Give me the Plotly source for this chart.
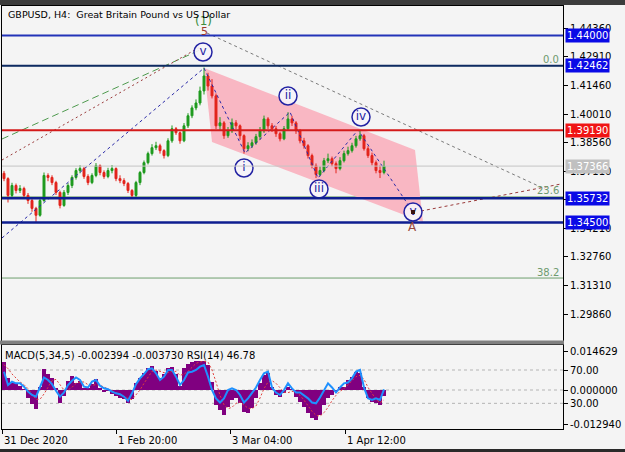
import plotly.graph_objects as go

W, H = 625, 452
FONT = "DejaVu Sans"

# ---------------- price data (H4, sampled) ----------------
OPEN = [1.3700, 1.3673, 1.3588, 1.3638, 1.3613, 1.3623, 1.3588, 1.3562, 1.3522, 1.3487,
        1.3562, 1.3689, 1.3679, 1.3653, 1.3603, 1.3537, 1.3603, 1.3638, 1.3679, 1.3714,
        1.3724, 1.3684, 1.3653, 1.3689, 1.3739, 1.3704, 1.3684, 1.3714, 1.3724, 1.3673,
        1.3663, 1.3648, 1.3613, 1.3588, 1.3653, 1.3704, 1.3754, 1.3800, 1.3830, 1.3840,
        1.3815, 1.3790, 1.3865, 1.3926, 1.3906, 1.3865, 1.3941, 1.3992, 1.4032, 1.4057,
        1.4118, 1.4194, 1.4143, 1.4093, 1.3941, 1.3956, 1.3891, 1.3916, 1.3956, 1.3941,
        1.3891, 1.3825, 1.3840, 1.3855, 1.3886, 1.3916, 1.3976, 1.3941, 1.3926, 1.3901,
        1.3875, 1.3926, 1.3976, 1.3956, 1.3916, 1.3865, 1.3840, 1.3790, 1.3739, 1.3694,
        1.3714, 1.3764, 1.3774, 1.3749, 1.3724, 1.3764, 1.3800, 1.3815, 1.3840, 1.3875,
        1.3891, 1.3825, 1.3790, 1.3754, 1.3714, 1.3704]
HIGH = [1.3712, 1.3680, 1.3652, 1.3648, 1.3640, 1.3632, 1.3600, 1.3575, 1.3530, 1.3575,
        1.3704, 1.3700, 1.3690, 1.3662, 1.3612, 1.3615, 1.3650, 1.3690, 1.3726, 1.3741,
        1.3732, 1.3695, 1.3700, 1.3752, 1.3745, 1.3715, 1.3728, 1.3742, 1.3730, 1.3690,
        1.3675, 1.3656, 1.3620, 1.3662, 1.3712, 1.3765, 1.3810, 1.3848, 1.3860, 1.3850,
        1.3822, 1.3878, 1.3943, 1.3935, 1.3912, 1.3955, 1.4005, 1.4045, 1.4075, 1.4140,
        1.4237, 1.4210, 1.4178, 1.4105, 1.3985, 1.3965, 1.3935, 1.3978, 1.3970, 1.3948,
        1.3898, 1.3858, 1.3872, 1.3900, 1.3935, 1.3993, 1.3985, 1.3955, 1.3940, 1.3910,
        1.3940, 1.4010, 1.3992, 1.3965, 1.3925, 1.3880, 1.3848, 1.3800, 1.3750, 1.3735,
        1.3778, 1.3800, 1.3785, 1.3760, 1.3782, 1.3815, 1.3835, 1.3855, 1.3890, 1.3917,
        1.3900, 1.3838, 1.3805, 1.3765, 1.3740, 1.3764]
LOW = [1.3660, 1.3552, 1.3575, 1.3598, 1.3600, 1.3570, 1.3545, 1.3505, 1.3452, 1.3480,
       1.3555, 1.3660, 1.3640, 1.3590, 1.3522, 1.3530, 1.3590, 1.3625, 1.3668, 1.3700,
       1.3672, 1.3640, 1.3645, 1.3680, 1.3690, 1.3672, 1.3675, 1.3700, 1.3660, 1.3650,
       1.3635, 1.3600, 1.3574, 1.3580, 1.3640, 1.3695, 1.3745, 1.3790, 1.3818, 1.3800,
       1.3775, 1.3782, 1.3855, 1.3895, 1.3850, 1.3858, 1.3930, 1.3980, 1.4020, 1.4045,
       1.4100, 1.4120, 1.4080, 1.3925, 1.3920, 1.3875, 1.3880, 1.3905, 1.3925, 1.3870,
       1.3800, 1.3812, 1.3828, 1.3845, 1.3870, 1.3905, 1.3925, 1.3910, 1.3885, 1.3862,
       1.3868, 1.3915, 1.3940, 1.3900, 1.3852, 1.3825, 1.3775, 1.3725, 1.3676, 1.3685,
       1.3705, 1.3752, 1.3735, 1.3700, 1.3715, 1.3755, 1.3790, 1.3805, 1.3830, 1.3865,
       1.3815, 1.3778, 1.3740, 1.3700, 1.3676, 1.3695]
CLOSE = [1.3673, 1.3588, 1.3638, 1.3613, 1.3623, 1.3588, 1.3562, 1.3522, 1.3487, 1.3562,
         1.3689, 1.3679, 1.3653, 1.3603, 1.3537, 1.3603, 1.3638, 1.3679, 1.3714, 1.3724,
         1.3684, 1.3653, 1.3689, 1.3739, 1.3704, 1.3684, 1.3714, 1.3724, 1.3673, 1.3663,
         1.3648, 1.3613, 1.3588, 1.3653, 1.3704, 1.3754, 1.3800, 1.3830, 1.3840, 1.3815,
         1.3790, 1.3865, 1.3926, 1.3906, 1.3865, 1.3941, 1.3992, 1.4032, 1.4057, 1.4118,
         1.4194, 1.4143, 1.4093, 1.3941, 1.3956, 1.3891, 1.3916, 1.3956, 1.3941, 1.3891,
         1.3825, 1.3840, 1.3855, 1.3886, 1.3916, 1.3976, 1.3941, 1.3926, 1.3901, 1.3875,
         1.3926, 1.3976, 1.3956, 1.3916, 1.3865, 1.3840, 1.3790, 1.3739, 1.3694, 1.3714,
         1.3764, 1.3774, 1.3749, 1.3724, 1.3764, 1.3800, 1.3815, 1.3840, 1.3875, 1.3891,
         1.3825, 1.3790, 1.3754, 1.3714, 1.3704, 1.3737]
BARS = list(range(len(CLOSE)))

# ---------------- indicator data ----------------
MACD = [0.0105, 0.0045, 0.0026, 0.0026, 0.0015, 0.0002, -0.0030, -0.0053, -0.0070, 0.0010,
        0.0079, 0.0060, 0.0045, 0.0008, -0.0049, -0.0022, 0.0034, 0.0053, 0.0026, 0.0034,
        0.0008, 0.0004, 0.0023, 0.0040, 0.0008, -0.0005, -0.0003, -0.0015, -0.0022, -0.0030,
        -0.0034, -0.0049, -0.0035, 0.0026, 0.0045, 0.0064, 0.0083, 0.0090, 0.0071, 0.0045,
        0.0060, 0.0083, 0.0086, 0.0060, 0.0015, 0.0083, 0.0098, 0.0105, 0.0109, 0.0109,
        0.0109, 0.0095, 0.0030, -0.0056, -0.0075, -0.0094, -0.0064, -0.0038, -0.0030, -0.0049,
        -0.0083, -0.0086, -0.0068, -0.0030, 0.0026, 0.0056, 0.0064, 0.0011, -0.0019, -0.0026,
        -0.0011, 0.0011, 0.0002, -0.0026, -0.0045, -0.0064, -0.0086, -0.0105, -0.0113, -0.0094,
        -0.0056, -0.0030, -0.0019, -0.0003, 0.0011, 0.0011, 0.0038, 0.0049, 0.0068, 0.0064,
        0.0011, -0.0030, -0.0045, -0.0049, -0.0056, -0.0024]
SIGNAL = [0.0095, 0.0080, 0.0060, 0.0045, 0.0030, 0.0020, 0.0005, -0.0015, -0.0035, -0.0035,
          -0.0015, 0.0010, 0.0035, 0.0040, 0.0020, 0.0000, 0.0000, 0.0010, 0.0025, 0.0030,
          0.0030, 0.0020, 0.0018, 0.0020, 0.0018, 0.0012, 0.0005, -0.0003, -0.0010, -0.0018,
          -0.0025, -0.0032, -0.0036, -0.0020, 0.0000, 0.0025, 0.0050, 0.0070, 0.0075, 0.0070,
          0.0065, 0.0065, 0.0070, 0.0070, 0.0055, 0.0060, 0.0070, 0.0085, 0.0100, 0.0105,
          0.0108, 0.0105, 0.0075, 0.0030, -0.0020, -0.0055, -0.0070, -0.0065, -0.0050, -0.0045,
          -0.0055, -0.0068, -0.0070, -0.0060, -0.0030, 0.0005, 0.0030, 0.0035, 0.0025, 0.0008,
          -0.0008, -0.0010, -0.0005, -0.0008, -0.0020, -0.0038, -0.0060, -0.0080, -0.0095, -0.0098,
          -0.0085, -0.0065, -0.0040, -0.0020, -0.0005, 0.0005, 0.0020, 0.0035, 0.0050, 0.0055,
          0.0040, 0.0010, -0.0015, -0.0035, -0.0048, -0.0037]
RSI = [68, 52, 56, 54, 54, 50, 44, 40, 38, 50,
       61, 58, 53, 45, 38, 43, 52, 57, 61, 58,
       50, 49, 56, 58, 51, 48, 47, 44, 42, 41,
       38, 33, 42, 53, 60, 65, 71, 72, 66, 58,
       62, 70, 70, 62, 52, 58, 67, 68, 70, 74,
       76, 62, 46, 36, 31, 36, 46, 48, 46, 40,
       31, 36, 42, 49, 58, 66, 68, 49, 43, 40,
       46, 54, 48, 43, 43, 40, 36, 31, 30, 37,
       46, 54, 49, 43, 49, 54, 55, 60, 68, 70,
       49, 36, 34, 36, 34, 46.78]

# ---------------- axes / ticks ----------------
X_RANGE = [-0.5, 139.75]
PRICE_RANGE = [1.28490, 1.45491]
PRICE_TICKS = [1.29860, 1.31310, 1.32760, 1.34210, 1.35660, 1.37110,
               1.38560, 1.40010, 1.41460, 1.42910, 1.44360]
PRICE_TICK_HIDDEN = [1.35660]          # fully covered by a price box in the original
MACD_RANGE = [-0.01463, 0.01688]
MACD_TICKS = [0.014629, 0.0, -0.012940]
MACD_TICKTEXT = ["0.014629", "0.000000", "-0.012940"]
RSI_RANGE = [-0.8, 100.0]
RSI_TICKS = [70, 30]
TIME_TICK_BARS = [-0.5, 28, 56.5, 85.25]
TIME_TICK_TEXT = ["31 Dec 2020", "1 Feb 20:00", "3 Mar 04:00", "1 Apr 12:00"]

# ---------------- drawing objects ----------------
LEVELS = [1.44000, 1.42462, 1.39190, 1.37366, 1.35732, 1.34500]
LEVEL_LINE_COLORS = ["#2233B8", "#0E2A62", "#D41A1A", "#C4C4C4", "#0E1E90", "#0E1E90"]
LEVEL_LINE_WIDTHS = [2, 2, 2, 1, 2.5, 2.5]
LEVEL_BOX_COLORS = ["#0A0AE6", "#0A0AE6", "#F01414", "#C0C0C0", "#0A0AE6", "#0A0AE6"]

FIB_NAMES = ["0.0", "23.6", "38.2"]
FIB_PRICES = [1.42462, 1.35804, 1.31685]

CHANNEL_X = [50, 102.75, 104.75, 52]
CHANNEL_Y = [1.4234, 1.3818, 1.3453, 1.3859]

WAVE_X = [-0.5, 50, 60.25, 71.5, 78.5, 88.5, 102.25]
WAVE_Y = [1.3372, 1.4234, 1.3803, 1.4011, 1.3676, 1.3920, 1.3504]

WAVE_LABELS = ["v", "i", "ii", "iii", "iv", "v"]
WAVE_LABEL_X = [49.75, 60, 71, 78.75, 89.25, 102.25]
WAVE_LABEL_Y = [1.43157, 1.37270, 1.40924, 1.36204, 1.39858, 1.35037]

GREEN_LINE_X, GREEN_LINE_Y = [-0.5, 49], [1.38741, 1.43258]
RED_LINE_X, RED_LINE_Y = [-0.5, 49], [1.37676, 1.43410]
GRAY_LINE_X, GRAY_LINE_Y = [50.75, 135.25], [1.44121, 1.36204]
BROWN_LINE_X, BROWN_LINE_Y = [104.25, 139.25], [1.35087, 1.36458]

# ---------------- geometry helpers (pixel -> paper) ----------------
def py(px):
    return 1 - px / H

def pxx(px):
    return px / W

fig = go.Figure()

# channel (below traces)
path = "M " + " L ".join(f"{x},{y}" for x, y in zip(CHANNEL_X, CHANNEL_Y)) + " Z"
fig.add_shape(type="path", path=path, xref="x", yref="y",
              fillcolor="#F9B7C3", line=dict(width=0), layer="below")

# fib lines (below)
for p in FIB_PRICES:
    fig.add_shape(type="line", xref="x domain", yref="y", x0=0, x1=1, y0=p, y1=p,
                  line=dict(color="#6E9E6E", width=1), layer="below")

# candles
fig.add_trace(go.Candlestick(
    x=BARS, open=OPEN, high=HIGH, low=LOW, close=CLOSE,
    increasing=dict(line=dict(color="#1E9A1E", width=1), fillcolor="#1E9A1E"),
    decreasing=dict(line=dict(color="#E3241C", width=1), fillcolor="#E3241C"),
    whiskerwidth=0, showlegend=False, xaxis="x", yaxis="y"))

# horizontal level lines (above candles)
for lv, c, w in zip(LEVELS, LEVEL_LINE_COLORS, LEVEL_LINE_WIDTHS):
    fig.add_shape(type="line", xref="x domain", yref="y", x0=0, x1=1, y0=lv, y1=lv,
                  line=dict(color=c, width=w), layer="above")

# trend lines
fig.add_trace(go.Scatter(x=GREEN_LINE_X, y=GREEN_LINE_Y, mode="lines",
                         line=dict(color="#4E9A4E", width=1, dash="7px,4px"),
                         showlegend=False, xaxis="x", yaxis="y"))
fig.add_trace(go.Scatter(x=RED_LINE_X, y=RED_LINE_Y, mode="lines",
                         line=dict(color="#9A3A3A", width=1, dash="2px,3px"),
                         showlegend=False, xaxis="x", yaxis="y"))
fig.add_trace(go.Scatter(x=GRAY_LINE_X, y=GRAY_LINE_Y, mode="lines",
                         line=dict(color="#7A7A7A", width=1, dash="3px,3px"),
                         showlegend=False, xaxis="x", yaxis="y"))
fig.add_trace(go.Scatter(x=BROWN_LINE_X, y=BROWN_LINE_Y, mode="lines",
                         line=dict(color="#9A3A3A", width=1, dash="3px,3px"),
                         showlegend=False, xaxis="x", yaxis="y"))
fig.add_trace(go.Scatter(x=WAVE_X, y=WAVE_Y, mode="lines",
                         line=dict(color="#2A2AA8", width=1, dash="3px,3px"),
                         showlegend=False, xaxis="x", yaxis="y"))

# circled wave labels
fig.add_trace(go.Scatter(
    x=WAVE_LABEL_X, y=WAVE_LABEL_Y, mode="markers+text", text=WAVE_LABELS,
    textposition="middle center",
    textfont=dict(family=FONT, size=12, color="#2323A3"),
    marker=dict(symbol="circle", size=18, color="rgba(246,244,250,0.9)",
                line=dict(color="#2323A3", width=1.5)),
    showlegend=False, xaxis="x", yaxis="y"))
fig.add_trace(go.Scatter(x=[WAVE_LABEL_X[-1]], y=[WAVE_LABEL_Y[-1]], mode="markers",
                         marker=dict(symbol="square", size=4, color="#3A1010"),
                         showlegend=False, xaxis="x", yaxis="y"))

# MACD panel
fig.add_trace(go.Bar(x=BARS, y=MACD, marker=dict(color="#800080", line=dict(width=0)),
                     width=1.0, showlegend=False, xaxis="x2", yaxis="y2"))
fig.add_trace(go.Scatter(x=BARS, y=SIGNAL, mode="lines",
                         line=dict(color="#E0403C", width=1, dash="2px,2px"),
                         showlegend=False, xaxis="x2", yaxis="y2"))
fig.add_trace(go.Scatter(x=BARS, y=RSI, mode="lines",
                         line=dict(color="#1E90FF", width=2),
                         showlegend=False, xaxis="x2", yaxis="y3"))

for lv in RSI_TICKS:
    fig.add_shape(type="line", xref="x2 domain", yref="y3", x0=0, x1=1, y0=lv, y1=lv,
                  line=dict(color="#B4B4B4", width=1, dash="3px,3px"), layer="below")
fig.add_shape(type="line", xref="x2 domain", yref="y2", x0=0, x1=1, y0=0, y1=0,
              line=dict(color="#B4B4B4", width=1, dash="3px,3px"), layer="below")

# separator / frame strips
fig.add_shape(type="rect", xref="paper", yref="paper", x0=0, x1=pxx(564),
              y0=py(344.5), y1=py(340.5), fillcolor="#808080", line=dict(width=0), layer="above")
fig.add_shape(type="rect", xref="paper", yref="paper", x0=0, x1=1,
              y0=py(5), y1=1, fillcolor="#3C3C3C", line=dict(width=0), layer="above")
fig.add_shape(type="rect", xref="paper", yref="paper", x0=0, x1=1,
              y0=0, y1=py(449), fillcolor="#2A2A2A", line=dict(width=0), layer="above")

ann = []
# right axis price boxes
for lv, c in zip(LEVELS, LEVEL_BOX_COLORS):
    ann.append(dict(x=pxx(565), xref="paper", y=lv, yref="y", xanchor="left", yanchor="middle",
                    text=f"{lv:.5f}", showarrow=False, bgcolor=c, borderpad=1,
                    font=dict(family=FONT, size=10, color="white")))
# fib labels
for name, p in zip(FIB_NAMES, FIB_PRICES):
    ann.append(dict(x=pxx(561), xref="paper", y=p, yref="y", xanchor="right", yanchor="middle",
                    yshift=6, text=name, showarrow=False,
                    font=dict(family=FONT, size=10, color="#6E9A6E")))
# wave degree marks
ann.append(dict(x=WAVE_X[1] - 0.25, y=1.44730, xref="x", yref="y", text="(1)", showarrow=False,
                font=dict(family=FONT, size=12, color="#3E8E3E")))
ann.append(dict(x=WAVE_X[1], y=1.44222, xref="x", yref="y", text="5", showarrow=False,
                font=dict(family=FONT, size=11, color="#A0382A")))
ann.append(dict(x=102, y=1.34275, xref="x", yref="y", text="A", showarrow=False,
                font=dict(family=FONT, size=12, color="#9A4A3A")))
# titles
ann.append(dict(x=pxx(6), y=py(15), xref="paper", yref="paper", xanchor="left", yanchor="middle",
                text="GBPUSD, H4:  Great Britain Pound vs US Dollar", showarrow=False,
                font=dict(family=FONT, size=9.5, color="black")))
ann.append(dict(x=pxx(3), y=py(355), xref="paper", yref="paper", xanchor="left", yanchor="middle",
                text="MACD(5,34,5) -0.002394 -0.003730 RSI(14) 46.78", showarrow=False,
                font=dict(family=FONT, size=10, color="black")))
# time labels
for b, t in zip(TIME_TICK_BARS, TIME_TICK_TEXT):
    ann.append(dict(x=b, xref="x2", y=py(440), yref="paper", xanchor="left", yanchor="middle",
                    text=t, showarrow=False, font=dict(family=FONT, size=10, color="black")))

axis_common = dict(showgrid=False, zeroline=False, showline=True, linecolor="black",
                   linewidth=1, mirror=True)
fig.update_layout(
    width=W, height=H, margin=dict(l=0, r=0, t=0, b=0),
    paper_bgcolor="#F4F4F4", plot_bgcolor="#F4F4F4",
    showlegend=False, bargap=0,
    xaxis=dict(domain=[pxx(2), pxx(563)], range=X_RANGE, anchor="y",
               showticklabels=False, ticks="", rangeslider=dict(visible=False), **axis_common),
    yaxis=dict(domain=[py(341), py(6)], range=PRICE_RANGE, anchor="x", side="right",
               tickvals=PRICE_TICKS,
               ticktext=["" if t in PRICE_TICK_HIDDEN else f"{t:.5f}" for t in PRICE_TICKS],
               ticks="outside", ticklen=4, tickcolor="black",
               tickfont=dict(family=FONT, size=10, color="black"), **axis_common),
    xaxis2=dict(domain=[pxx(2), pxx(563)], range=X_RANGE, anchor="y2",
                tickvals=TIME_TICK_BARS, ticktext=[""] * len(TIME_TICK_BARS),
                ticks="outside", ticklen=4, tickcolor="black", **axis_common),
    yaxis2=dict(domain=[py(429), py(345)], range=MACD_RANGE, anchor="x2", side="right",
                tickvals=MACD_TICKS, ticktext=MACD_TICKTEXT,
                ticks="outside", ticklen=4, tickcolor="black",
                tickfont=dict(family=FONT, size=10, color="black"), **axis_common),
    yaxis3=dict(range=RSI_RANGE, overlaying="y2", anchor="x2", side="right",
                tickvals=RSI_TICKS, ticktext=["70.00", "30.00"],
                ticks="outside", ticklen=4, tickcolor="black",
                tickfont=dict(family=FONT, size=10, color="black"),
                showgrid=False, zeroline=False, showline=False),
    annotations=ann,
)

fig.write_html("out.html")
